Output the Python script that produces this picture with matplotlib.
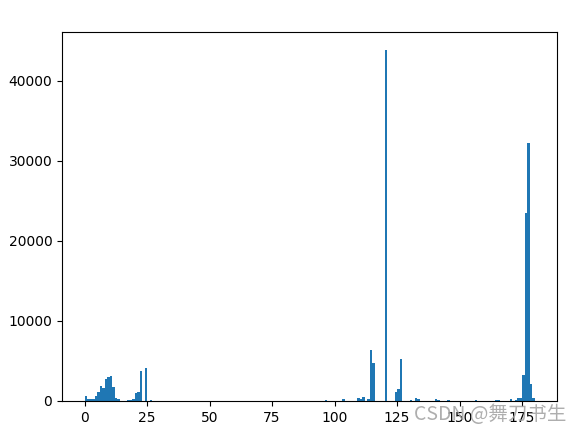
import matplotlib
matplotlib.use("Agg")
import matplotlib.pyplot as plt
import numpy as np

# Hue histogram (180 bins over [0, 180)) - non-zero bins
hue_bins = [0, 1, 2, 3, 4, 5, 6, 7, 8, 9, 10, 11, 12, 13, 17, 18, 19, 20, 21, 22,
            24, 26, 96, 103, 109, 110, 111, 113, 114, 115, 120, 124, 125, 126,
            130, 132, 133, 140, 141, 145, 156, 164, 165, 170, 172, 173, 174,
            175, 176, 177, 178, 179]
bin_counts = [620, 250, 250, 250, 650, 1150, 1900, 1600, 2700, 3000, 3150, 1750,
              350, 250, 120, 120, 280, 1000, 1100, 3750,
              4150, 120, 100, 220, 350, 230, 480, 250, 6350, 4750,
              43900, 1120, 1480, 5220,
              110, 380, 250, 200, 120, 120, 120, 90, 90, 220, 80, 320, 320,
              3200, 23450, 32250, 2170, 350]

n_bins = 180
hist_range = (0, 180)

fig = plt.figure(figsize=(5.81, 4.34), dpi=100)
ax = fig.add_axes([62 / 581, 33 / 434, 495 / 581, 369 / 434])

edges = np.linspace(hist_range[0], hist_range[1], n_bins + 1)
ax.hist(hue_bins, bins=edges, weights=bin_counts, color="#1f77b4")

fig.text(566 / 581, 9 / 434, "CSDN @舞刀书生", ha="right", va="bottom", fontsize=14,
         color="#a0a0a0", alpha=0.85,
         family=["Noto Sans CJK SC", "DejaVu Sans"])

fig.savefig("out.png", dpi=100)
